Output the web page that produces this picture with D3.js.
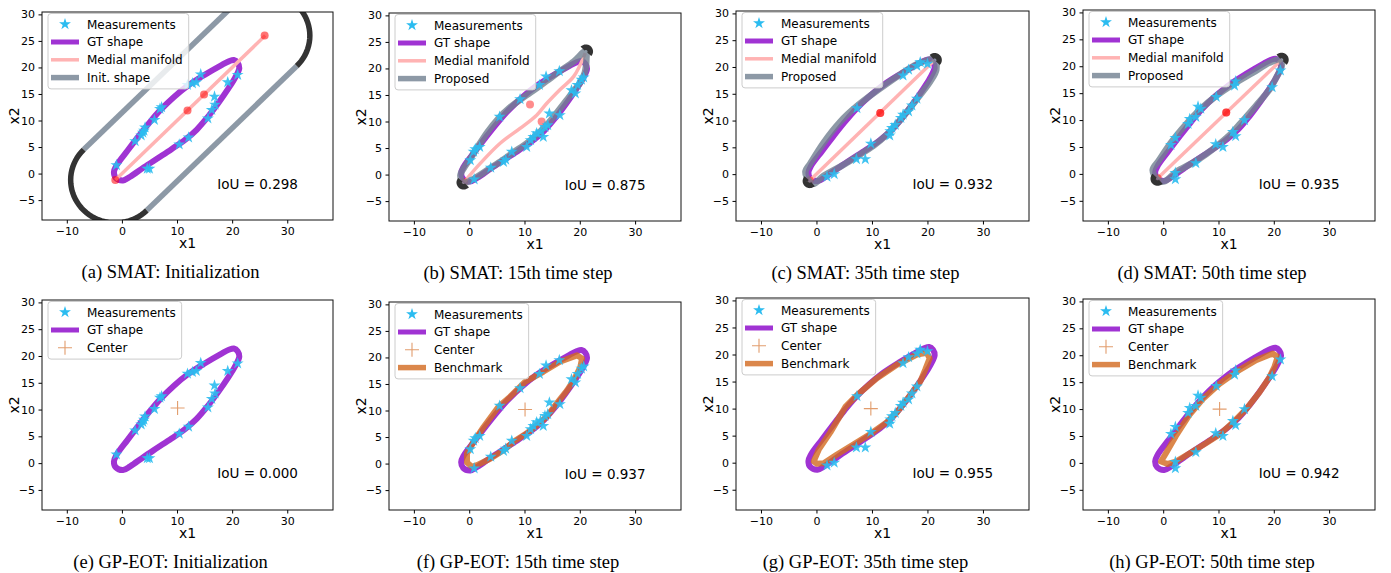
<!DOCTYPE html>
<html lang="en">
<head>
<meta charset="UTF-8">
<title>SMAT vs GP-EOT</title>
<style>
  * { box-sizing: border-box; margin: 0; padding: 0; }
  body { background: #fff; }
  svg { display: block; }
  .tick text { font: 11px "DejaVu Sans", sans-serif; fill: #000; }
  .tick line { stroke: #000; }
  .axis-label { font: 14px "DejaVu Sans", sans-serif; fill: #000; }
  .legend text { font: 12px "DejaVu Sans", sans-serif; fill: #000; }
  .iou { font: 13.5px "DejaVu Sans", sans-serif; fill: #000; }
  .caption { font: 18.5px "Liberation Serif", "Times New Roman", serif; fill: #000; }
</style>
</head>
<body>
<svg id="chart" width="1391" height="573"></svg>
<script src="https://d3js.org/d3.v7.min.js"></script>
<script>
// axis limits and ticks (shared by all panels)
const xDomain = [-14.5, 38.3];
const yDomain = [-8.75, 30.45];
const xTicks = [-10, 0, 10, 20, 30];
const yTicks = [-5, 0, 5, 10, 15, 20, 25, 30];

// ground truth contour
const gtShape = [
  [-1.45, 0.3], [-1.0, 1.5], [1.0, 4.3], [3.0, 7.0], [5.0, 9.6], [7.0, 12.0], [9.5, 14.5],
  [12.0, 16.6], [15.0, 18.6], [18.0, 20.4], [19.5, 21.2], [20.3, 21.4], [21.0, 20.9],
  [21.3, 19.9], [20.5, 18.0], [19.3, 16.0], [17.5, 13.3], [15.6, 10.7], [13.6, 8.3],
  [11.5, 6.4], [9.0, 4.6], [6.5, 2.9], [4.0, 1.2], [1.5, -0.6], [0.2, -1.3], [-1.1, -0.8]
];

// measurements at initialization / 15th / 35th / 50th step
const measInit = [
  [-1.0, 1.6], [2.4, 6.1], [3.5, 7.2], [3.8, 7.7], [4.2, 8.7], [4.0, 8.1], [5.9, 10.1],
  [6.9, 12.2], [7.2, 12.5], [4.6, 0.9], [5.0, 0.9], [10.4, 5.5], [12.1, 6.8], [11.9, 16.7],
  [12.8, 17.0], [13.5, 17.2], [14.3, 18.7], [15.6, 10.4], [16.3, 12.0], [16.9, 13.0],
  [16.8, 14.5], [19.2, 17.2], [21.0, 18.6]
];
const meas15 = [
  [0.2, 2.7], [0.8, 4.3], [1.1, 4.8], [1.9, 5.2], [0.9, -0.9], [3.9, 1.3], [5.5, 10.9],
  [6.2, 2.4], [6.6, 2.8], [7.7, 4.3], [9.2, 14.2], [10.4, 5.2], [11.1, 6.5], [11.6, 7.1],
  [12.2, 7.8], [12.9, 8.1], [13.4, 7.1], [13.7, 9.0], [14.2, 9.3], [14.5, 11.5], [16.4, 11.2],
  [12.7, 16.9], [13.9, 18.5], [16.3, 19.5], [18.5, 15.9], [19.2, 15.3], [19.6, 16.9],
  [20.3, 17.9], [20.7, 18.3]
];
const meas35 = [
  [1.9, -0.5], [3.2, 0.0], [7.3, 12.3], [7.2, 2.8], [8.8, 2.8], [9.8, 5.7], [13.2, 7.2],
  [13.3, 8.0], [13.6, 8.6], [14.2, 9.2], [15.2, 10.5], [15.6, 11.1], [16.6, 11.7],
  [17.2, 12.8], [18.1, 14.1], [15.6, 18.4], [16.6, 19.5], [18.1, 20.2], [18.7, 20.9],
  [20.0, 20.6]
];
const meas50 = [
  [2.2, 0.2], [2.2, -1.0], [1.4, 5.4], [2.2, 6.7], [4.5, 9.3], [4.8, 10.2], [5.9, 10.6],
  [6.3, 12.5], [6.8, 12.1], [5.9, 2.0], [9.6, 14.3], [9.5, 5.5], [10.8, 5.0], [12.6, 7.8],
  [13.1, 7.0], [12.9, 16.4], [13.1, 17.2], [14.7, 10.0], [19.7, 16.1], [21.2, 19.2]
];

// SMAT: medial manifold and its nodes
const medialInit = [[-1.2, -1.2], [26.0, 26.0]];
const nodesInit = [[-1.2, -1.2], [11.9, 11.9], [14.9, 14.9], [25.9, 26.0]];
const initRadius = 8.1;
const medial15 = [
  [-0.9, -1.4], [2.0, 2.1], [5.6, 5.9], [9.2, 8.7], [12.2, 11.2], [14.0, 13.4],
  [16.4, 16.0], [18.9, 18.5], [21.0, 22.9]
];
const nodes15 = [[-0.9, -1.4], [11.0, 13.2], [13.1, 10.0]];
const medial35 = [[-1.2, -1.2], [21.2, 21.2]];
const nodes35 = [[-1.2, -1.2], [11.5, 11.4], [11.5, 11.4]];
const medial50 = [[-1.0, -0.8], [21.4, 21.2]];
const nodes50 = [[-1.0, -0.8], [11.4, 11.4], [11.4, 11.4]];

// SMAT: proposed contours and end caps
const proposed15 = [
  [-1.0, -1.5], [-1.6, -0.2], [-0.8, 1.5], [0.2, 3.0], [1.4, 5.0], [3.3, 8.0], [5.3, 10.6],
  [7.2, 12.5], [9.2, 14.1], [11.0, 15.4], [12.8, 16.7], [14.6, 18.1], [16.4, 19.5],
  [18.9, 21.3], [21.1, 23.3], [21.2, 21.8], [20.9, 19.2], [20.0, 17.2], [18.9, 15.8],
  [17.6, 14.0], [15.8, 11.6], [14.0, 9.3], [12.2, 7.5], [10.4, 5.9], [8.0, 4.2], [6.0, 2.7],
  [3.8, 1.2], [0.8, -0.8]
];
const caps15 = [[-1.0, -1.5], [21.1, 23.2]];
const proposed35 = [
  [-1.2, -1.4], [-2.0, 0.4], [-1.1, 2.0], [1.3, 5.9], [4.3, 9.8], [7.3, 12.7], [11.5, 16.0],
  [15.1, 18.6], [18.1, 20.5], [21.3, 21.4], [21.6, 19.5], [20.5, 17.3], [18.7, 14.8],
  [16.6, 12.0], [14.5, 9.4], [12.7, 7.4], [10.3, 5.3], [7.3, 3.3], [4.3, 1.4], [1.3, -0.3],
  [-0.5, -1.8]
];
const caps35 = [[-1.2, -1.3], [21.3, 21.3]];
const proposed50 = [
  [-1.0, -1.1], [-1.9, 0.75], [-0.7, 2.6], [1.4, 5.8], [4.2, 9.3], [6.6, 11.9], [9.6, 14.5],
  [12.9, 16.8], [16.2, 18.8], [19.3, 20.7], [21.4, 21.2], [21.4, 19.9], [20.5, 18.0],
  [19.3, 15.8], [16.8, 12.7], [14.4, 9.9], [12.4, 7.6], [10.2, 5.6], [7.8, 3.7], [5.4, 2.1],
  [2.4, 0.4], [0.2, -1.4]
];
const caps50 = [[-1.0, -0.9], [21.4, 21.2]];
const capRadius = 0.8;

// GP-EOT: benchmark contours and centers
const bench15 = [
  [-0.4, 0.2], [-0.4, 1.9], [0.8, 4.1], [2.6, 6.9], [5.3, 10.7], [7.4, 12.6], [10.1, 15.4],
  [13.4, 17.3], [16.4, 19.2], [19.5, 20.4], [20.4, 19.8], [20.1, 18.2], [18.9, 15.7],
  [17.7, 13.8], [15.8, 11.3], [14.0, 8.8], [12.2, 7.2], [10.4, 5.7], [8.0, 4.1], [6.2, 2.5],
  [3.8, 0.9], [1.4, -0.3], [0.5, -0.6]
];
const bench35 = [
  [-0.5, 0.25], [0.4, 2.4], [2.5, 5.6], [5.2, 10.3], [7.3, 12.5], [10.9, 15.6], [14.5, 18.1],
  [18.1, 20.0], [19.9, 20.3], [20.4, 19.3], [19.6, 17.2], [18.7, 15.0], [16.9, 12.5],
  [14.5, 9.3], [12.7, 7.5], [9.7, 5.3], [6.7, 3.4], [3.7, 1.5], [1.3, -0.1], [0.1, -0.2]
];
const bench50 = [
  [-0.4, 0.25], [0.5, 1.8], [2.3, 5.0], [4.8, 9.0], [7.2, 11.9], [10.2, 14.7], [13.2, 16.9],
  [16.8, 19.1], [19.8, 20.3], [20.7, 19.7], [20.1, 17.8], [19.2, 15.9], [17.4, 13.1],
  [15.0, 10.0], [12.6, 7.5], [10.2, 5.3], [7.8, 3.7], [4.8, 1.8], [2.3, 0.25], [0.8, -0.2]
];
const centers = [[10.1, 10.3], [10.1, 10.2], [9.8, 10.0], [10.2, 10.0]];

const iouValues = ["0.298", "0.875", "0.932", "0.935", "0.000", "0.937", "0.955", "0.942"];
const captions = [
  "(a) SMAT: Initialization", "(b) SMAT: 15th time step", "(c) SMAT: 35th time step",
  "(d) SMAT: 50th time step", "(e) GP-EOT: Initialization", "(f) GP-EOT: 15th time step",
  "(g) GP-EOT: 35th time step", "(h) GP-EOT: 50th time step"
];

// colours
const cGT = "#a033d3";
const cStar = "#2bbcf0";
const cMedial = "#ffb3b3";
const cNode = "red";
const cShape = "slategray";
const cCap = "#333";
const cBench = "chocolate";

// panel layout
const panels = [
  { x: 42, y: 12, w: 291, h: 208, kind: "smat", meas: measInit, medial: medialInit, nodes: nodesInit, nodeOp: 0.55, init: true },
  { x: 389, y: 13, w: 292, h: 208, kind: "smat", meas: meas15, medial: medial15, nodes: nodes15, nodeOp: 0.45, shape: proposed15, caps: caps15 },
  { x: 736, y: 11, w: 293, h: 210, kind: "smat", meas: meas35, medial: medial35, nodes: nodes35, nodeOp: 0.5, shape: proposed35, caps: caps35 },
  { x: 1083, y: 10, w: 292, h: 211, kind: "smat", meas: meas50, medial: medial50, nodes: nodes50, nodeOp: 0.5, shape: proposed50, caps: caps50 },
  { x: 42, y: 300, w: 291, h: 210, kind: "gp", meas: measInit, center: centers[0] },
  { x: 389, y: 302, w: 292, h: 208, kind: "gp", meas: meas15, center: centers[1], bench: bench15 },
  { x: 736, y: 298, w: 293, h: 212, kind: "gp", meas: meas35, center: centers[2], bench: bench35 },
  { x: 1083, y: 299, w: 292, h: 211, kind: "gp", meas: meas50, center: centers[3], bench: bench50 }
];

const svg = d3.select("#chart");
const star = d3.symbol().type(d3.symbolStar).size(44);

function capPoints(c, other, r) {
  const phi = Math.atan2(c[1] - other[1], c[0] - other[0]);
  return d3.range(0, 41).map(k => {
    const t = phi - Math.PI / 2 + Math.PI * k / 40;
    return [c[0] + r * Math.cos(t), c[1] + r * Math.sin(t)];
  });
}

function drawLegend(g, items) {
  const lg = g.append("g").attr("class", "legend").attr("transform", "translate(6,1.5)");
  const box = lg.append("rect")
    .attr("rx", 3).attr("fill", "#fff").attr("fill-opacity", 0.8)
    .attr("stroke", "#ccc").attr("stroke-width", 1);
  let maxW = 0;
  items.forEach((it, k) => {
    const cy = 10.7 + k * 17.8;
    if (it.type === "line") {
      lg.append("line")
        .attr("x1", 3).attr("x2", 31).attr("y1", cy).attr("y2", cy)
        .attr("stroke", it.color).attr("stroke-width", it.width)
        .attr("stroke-opacity", it.opacity || 1);
    } else if (it.type === "star") {
      lg.append("path").attr("d", star).attr("transform", `translate(17,${cy})`)
        .attr("fill", cStar);
    } else if (it.type === "plus") {
      lg.append("path").attr("d", `M10,${cy}h14M17,${cy - 7}v14`)
        .attr("stroke", cBench).attr("stroke-opacity", 0.65).attr("stroke-width", 1.1);
    }
    const t = lg.append("text").attr("x", 39).attr("y", cy).attr("dy", "0.36em").text(it.label);
    maxW = Math.max(maxW, t.node().getComputedTextLength());
  });
  box.attr("width", 39 + maxW + 6).attr("height", 22 + (items.length - 1) * 17.8);
}

function drawPanel(p, i) {
  const g = svg.append("g").attr("transform", `translate(${p.x},${p.y})`);
  const x = d3.scaleLinear().domain(xDomain).range([0, p.w]);
  const y = d3.scaleLinear().domain(yDomain).range([p.h, 0]);

  const closed = d3.line().x(d => x(d[0])).y(d => y(d[1])).curve(d3.curveCatmullRomClosed.alpha(0.5));
  const open = d3.line().x(d => x(d[0])).y(d => y(d[1])).curve(d3.curveCatmullRom.alpha(0.5));
  const poly = d3.line().x(d => x(d[0])).y(d => y(d[1])).curve(d3.curveLinearClosed);

  g.append("clipPath").attr("id", "clip" + i)
    .append("rect").attr("width", p.w).attr("height", p.h);
  const plot = g.append("g").attr("clip-path", `url(#clip${i})`);

  // ground truth
  plot.append("path").datum(gtShape).attr("d", closed)
    .attr("fill", "none").attr("stroke", cGT).attr("stroke-width", 6)
    .attr("stroke-linejoin", "round");

  if (p.kind === "smat") {
    plot.append("path").datum(p.medial).attr("d", open)
      .attr("fill", "none").attr("stroke", cMedial).attr("stroke-width", 3.5);
    plot.selectAll(".node").data(p.nodes).join("circle")
      .attr("cx", d => x(d[0])).attr("cy", d => y(d[1])).attr("r", 4)
      .attr("fill", cNode).attr("fill-opacity", p.nodeOp);

    let capList;
    if (p.init) {
      const [c1, c2] = p.medial;
      const len = Math.hypot(c2[0] - c1[0], c2[1] - c1[1]);
      const n = [-(c2[1] - c1[1]) / len * initRadius, (c2[0] - c1[0]) / len * initRadius];
      const sides = [
        [[c1[0] + n[0], c1[1] + n[1]], [c2[0] + n[0], c2[1] + n[1]]],
        [[c1[0] - n[0], c1[1] - n[1]], [c2[0] - n[0], c2[1] - n[1]]]
      ];
      plot.selectAll(".side").data(sides).join("line")
        .attr("x1", d => x(d[0][0])).attr("y1", d => y(d[0][1]))
        .attr("x2", d => x(d[1][0])).attr("y2", d => y(d[1][1]))
        .attr("stroke", cShape).attr("stroke-opacity", 0.8).attr("stroke-width", 5.5);
      capList = [capPoints(c1, c2, initRadius), capPoints(c2, c1, initRadius)];
    } else {
      plot.append("path").datum(p.shape).attr("d", closed)
        .attr("fill", "none").attr("stroke", cShape).attr("stroke-opacity", 0.8)
        .attr("stroke-width", 6.5).attr("stroke-linejoin", "round");
      capList = [capPoints(p.caps[0], p.caps[1], capRadius), capPoints(p.caps[1], p.caps[0], capRadius)];
    }
    const arc = d3.line().x(d => x(d[0])).y(d => y(d[1]));
    plot.selectAll(".cap").data(capList).join("path")
      .attr("d", arc).attr("fill", "none").attr("stroke", cCap).attr("stroke-width", 5.5);
  } else {
    if (p.bench) {
      plot.append("path").datum(p.bench).attr("d", poly)
        .attr("fill", "none").attr("stroke", cBench).attr("stroke-opacity", 0.8)
        .attr("stroke-width", 6).attr("stroke-linejoin", "round");
    }
    const cx = x(p.center[0]), cy = y(p.center[1]);
    plot.append("path").attr("d", `M${cx - 7},${cy}h14M${cx},${cy - 7}v14`)
      .attr("stroke", cBench).attr("stroke-opacity", 0.65).attr("stroke-width", 1.1);
  }

  // measurements
  plot.selectAll(".meas").data(p.meas).join("path")
    .attr("d", star).attr("transform", d => `translate(${x(d[0])},${y(d[1])})`)
    .attr("fill", cStar).attr("fill-opacity", 0.9);

  // axes
  g.append("g").attr("transform", `translate(0,${p.h})`)
    .call(d3.axisBottom(x).tickValues(xTicks).tickSize(3.5).tickPadding(3.5))
    .call(a => a.select(".domain").remove());
  g.append("g")
    .call(d3.axisLeft(y).tickValues(yTicks).tickSize(3.5).tickPadding(3.5))
    .call(a => a.select(".domain").remove());
  g.append("rect").attr("width", p.w).attr("height", p.h)
    .attr("fill", "none").attr("stroke", "#111").attr("stroke-width", 1);

  g.append("text").attr("class", "axis-label").attr("x", p.w / 2).attr("y", p.h + 27.5)
    .attr("text-anchor", "middle").text("x1");
  g.append("text").attr("class", "axis-label")
    .attr("transform", `translate(-22.7,${p.h / 2}) rotate(-90)`)
    .attr("text-anchor", "middle").text("x2");

  g.append("text").attr("class", "iou").attr("x", x(17.3)).attr("y", y(-1.9))
    .attr("dy", "0.36em").text("IoU = " + iouValues[i]);

  g.append("text").attr("class", "caption").attr("x", p.w / 2 - 17).attr("y", p.h + 58)
    .attr("text-anchor", "middle").text(captions[i]);

  // legend
  let items;
  if (p.kind === "smat") {
    items = [
      { type: "star", label: "Measurements" },
      { type: "line", label: "GT shape", color: cGT, width: 5 },
      { type: "line", label: "Medial manifold", color: cMedial, width: 3.5 },
      { type: "line", label: p.init ? "Init. shape" : "Proposed", color: cShape, width: 5.5, opacity: 0.8 }
    ];
  } else {
    items = [
      { type: "star", label: "Measurements" },
      { type: "line", label: "GT shape", color: cGT, width: 5 },
      { type: "plus", label: "Center" }
    ];
    if (p.bench) items.push({ type: "line", label: "Benchmark", color: cBench, width: 5.5, opacity: 0.8 });
  }
  drawLegend(g, items);
}

panels.forEach(drawPanel);
</script>
</body>
</html>
